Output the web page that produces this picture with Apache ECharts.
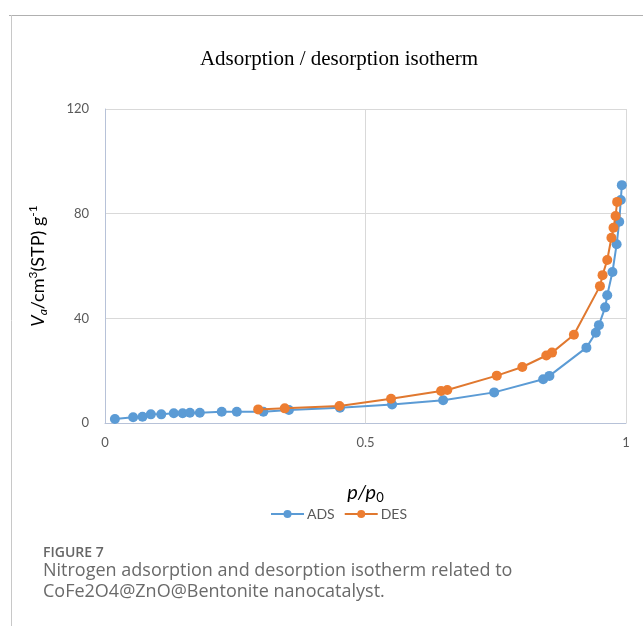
<!DOCTYPE html>
<html>
<head>
<meta charset="utf-8">
<script src="https://cdn.jsdelivr.net/npm/echarts@6/dist/echarts.min.js"></script>
<style>
html,body{margin:0;padding:0;background:#fff;}
#chart{width:643px;height:626px;}
</style>
</head>
<body>
<div id="chart"></div>
<script>
// Relative pressure p/p0 and adsorbed volume (cm3(STP)/g)
const adsP = [0.019, 0.054, 0.072, 0.088, 0.108, 0.132, 0.149, 0.163, 0.182, 0.224, 0.253, 0.304, 0.353, 0.451, 0.551, 0.649, 0.747, 0.841, 0.853, 0.924, 0.942, 0.948, 0.960, 0.964, 0.974, 0.982, 0.987, 0.990, 0.992];
const adsV = [1.5, 2.2, 2.4, 3.3, 3.3, 3.7, 3.7, 3.9, 3.9, 4.3, 4.3, 4.3, 5.0, 5.8, 7.1, 8.7, 11.7, 16.7, 18.0, 28.8, 34.5, 37.4, 44.2, 48.8, 57.7, 68.3, 76.9, 85.2, 90.9];
const desP = [0.294, 0.345, 0.450, 0.549, 0.645, 0.657, 0.752, 0.801, 0.847, 0.858, 0.900, 0.950, 0.955, 0.964, 0.972, 0.976, 0.980, 0.983];
const desV = [5.2, 5.6, 6.5, 9.3, 12.2, 12.6, 18.1, 21.4, 25.8, 26.9, 33.7, 52.3, 56.5, 62.3, 70.8, 74.6, 79.1, 84.5];
const seriesNames = ['ADS', 'DES'];
const xTicks = [0, 0.5, 1];
const yTicks = [0, 40, 80, 120];
const titleText = 'Adsorption / desorption isotherm';
const captionHead = 'FIGURE 7';
const captionLines = ['Nitrogen adsorption and desorption isotherm related to', 'CoFe2O4@ZnO@Bentonite nanocatalyst.'];

const zip = (a, b) => a.map((v, i) => [v, b[i]]);
const chart = echarts.init(document.getElementById('chart'), null, {renderer: 'canvas'});
const labelFont = 'Lato, "Open Sans", sans-serif';

chart.setOption({
  animation: false,
  backgroundColor: '#fff',
  title: {
    text: titleText,
    left: 334, top: 44, textAlign: 'center',
    textStyle: {fontFamily: '"Liberation Serif", "DejaVu Serif", serif', fontWeight: 'normal', fontSize: 21, color: '#000'}
  },
  grid: {left: 105, right: 17, top: 109, bottom: 203, containLabel: false},
  legend: {
    left: 265, top: 502,
    itemWidth: 33, itemHeight: 10, itemGap: 9,
    textStyle: {fontFamily: labelFont, fontSize: 14, color: '#595959', padding: [0, 0, 0, -2]},
    data: seriesNames
  },
  xAxis: {
    type: 'value', min: xTicks[0], max: xTicks[xTicks.length - 1], interval: 0.5,
    name: '{i|p/p}{s|0}', nameLocation: 'middle', nameGap: 58,
    nameTextStyle: {
      rich: {
        i: {fontFamily: labelFont, fontStyle: 'italic', fontSize: 20, color: '#000'},
        s: {fontFamily: labelFont, fontSize: 13, color: '#000', verticalAlign: 'bottom', padding: [10, 0, 0, 0]}
      }
    },
    axisLine: {show: true, lineStyle: {color: '#b7c2d8', width: 1}},
    axisTick: {show: false},
    axisLabel: {fontFamily: labelFont, fontSize: 13, color: '#595959', margin: 13,
      formatter: v => xTicks.indexOf(v) >= 0 ? String(v) : ''},
    splitLine: {show: true, lineStyle: {color: '#d9d9d9', width: 1}}
  },
  yAxis: {
    type: 'value', min: yTicks[0], max: yTicks[yTicks.length - 1], interval: 40,
    name: '{i|V}{sb|a}{n|/cm}{sp|3}{n|(STP) g}{sp|-1}', nameLocation: 'middle', nameGap: 56,
    nameTextStyle: {
      rich: {
        i: {fontFamily: labelFont, fontStyle: 'italic', fontSize: 18, color: '#000'},
        n: {fontFamily: labelFont, fontSize: 18, color: '#000'},
        sb: {fontFamily: labelFont, fontStyle: 'italic', fontSize: 12, color: '#000', verticalAlign: 'bottom', padding: [10, 0, 0, 0]},
        sp: {fontFamily: labelFont, fontSize: 12, color: '#000', verticalAlign: 'top', padding: [0, 0, 8, 0]}
      }
    },
    axisLine: {show: true, lineStyle: {color: '#b7c2d8', width: 1}},
    axisTick: {show: false},
    axisLabel: {fontFamily: labelFont, fontSize: 13, color: '#595959', margin: 16},
    splitLine: {show: true, lineStyle: {color: '#d9d9d9', width: 1}}
  },
  series: [
    {
      name: seriesNames[0], type: 'line', data: zip(adsP, adsV),
      symbol: 'circle', symbolSize: 10, showSymbol: true,
      itemStyle: {color: '#5b9bd5'},
      lineStyle: {color: '#5b9bd5', width: 2}, z: 2
    },
    {
      name: seriesNames[1], type: 'line', data: zip(desP, desV),
      symbol: 'circle', symbolSize: 10, showSymbol: true,
      itemStyle: {color: '#ed7d31'},
      lineStyle: {color: '#e0782f', width: 2}, z: 3
    }
  ],
  graphic: [
    {type: 'line', shape: {x1: 9, y1: 15.5, x2: 643, y2: 15.5}, style: {stroke: '#b0b0b0', lineWidth: 1}, silent: true},
    {type: 'line', shape: {x1: 11.5, y1: 15, x2: 11.5, y2: 626}, style: {stroke: '#c8c8c8', lineWidth: 1}, silent: true},
    {type: 'text', left: 43, top: 546, style: {text: captionHead, font: '600 14px "Open Sans", sans-serif', fill: '#666'}},
    {type: 'text', left: 43, top: 562, style: {text: captionLines[0], font: '18px "Open Sans", sans-serif', fill: '#6a6a6a'}},
    {type: 'text', left: 43, top: 583, style: {text: captionLines[1], font: '18px "Open Sans", sans-serif', fill: '#6a6a6a'}}
  ]
});
</script>
</body>
</html>
